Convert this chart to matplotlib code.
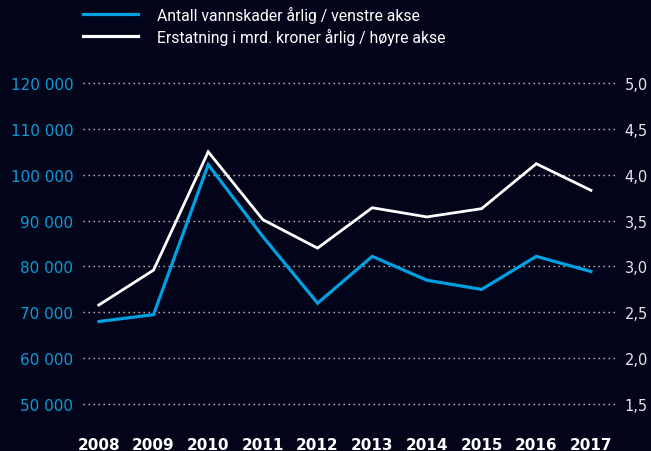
import matplotlib
matplotlib.use("Agg")
import matplotlib.pyplot as plt
from matplotlib.lines import Line2D

# data
years = [2008, 2009, 2010, 2011, 2012, 2013, 2014, 2015, 2016, 2017]
antall_skader = [68000, 69500, 102200, 86500, 72000, 82200, 77000, 75000, 82200, 78900]
erstatning_mrd = [2.58, 2.96, 4.25, 3.51, 3.20, 3.64, 3.54, 3.63, 4.12, 3.83]

left_ticks = [50000, 60000, 70000, 80000, 90000, 100000, 110000, 120000]
right_ticks = [1.5, 2.0, 2.5, 3.0, 3.5, 4.0, 4.5, 5.0]

label_blue = "Antall vannskader årlig / venstre akse"
label_white = "Erstatning i mrd. kroner årlig / høyre akse"

bg = "#02051a"
blue = "#00a0e3"
white = "#ffffff"

fig = plt.figure(figsize=(6.51, 4.52), dpi=100, facecolor=bg)
ax = fig.add_axes([83 / 651, 0.0429, (615 - 83) / 651, 0.8345 - 0.0429])
ax.set_facecolor(bg)
ax2 = ax.twinx()

ax.set_xlim(2007.71, 2017.44)
ax.set_ylim(44000, 122000)
ax2.set_ylim(1.2, 5.1)

# dotted gridlines
for t in left_ticks:
    ax.axhline(t, color="#c8c8c8", lw=1.0, linestyle=(0, (1, 2.6)), zorder=1)

ax.plot(years, antall_skader, color=blue, lw=2.3, zorder=3, solid_joinstyle="miter")
ax2.plot(years, erstatning_mrd, color=white, lw=2.0, zorder=3, solid_joinstyle="miter")

for a in (ax, ax2):
    for s in a.spines.values():
        s.set_visible(False)

ax.set_yticks(left_ticks)
ax.set_yticklabels([f"{v:,}".replace(",", " ") for v in left_ticks])
ax.tick_params(axis="y", length=0, pad=7, labelsize=11, labelcolor="#0f9ad6")

ax2.set_yticks(right_ticks)
ax2.set_yticklabels([f"{v:.1f}".replace(".", ",") for v in right_ticks])
ax2.tick_params(axis="y", length=0, pad=7, labelsize=10.5, labelcolor="#e6e6e6")

ax.set_xticks(years)
ax.set_xticklabels([str(y) for y in years], fontweight="bold")
ax.tick_params(axis="x", length=0, pad=4, labelsize=11, labelcolor="white")

handles = [Line2D([], [], color=blue, lw=2.3), Line2D([], [], color=white, lw=2.3)]
leg = fig.legend(handles, [label_blue, label_white], loc="upper left",
                 bbox_to_anchor=(69 / 651, 1.016), frameon=False,
                 handlelength=3.5, handletextpad=1.2, labelspacing=0.3,
                 prop={"family": ["Roboto", "DejaVu Sans"], "size": 11.3})
for t in leg.get_texts():
    t.set_color("white")

fig.savefig("out.png", dpi=100, facecolor=bg)
